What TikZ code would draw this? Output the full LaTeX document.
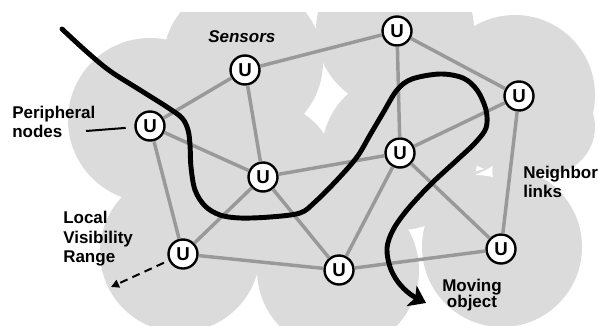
\documentclass[tikz,border=0pt]{standalone}
\usepackage{fontspec}
\setmainfont{Liberation Sans}
\usetikzlibrary{arrows.meta}
\definecolor{bgray}{HTML}{DBDBDB}
\definecolor{lgray}{HTML}{999999}
\begin{document}
\begin{tikzpicture}[x=0.75pt,y=-0.75pt,
  sensor/.style={circle,draw=black,line width=1.8pt,fill=white,minimum size=21.75pt,inner sep=0pt,
    font=\fontsize{14pt}{14pt}\selectfont\bfseries},
  link/.style={draw=lgray,line width=2.6pt},
  lbl/.style={inner sep=0pt,anchor=base west,font=\fontsize{12.75pt}{14pt}\selectfont\bfseries},
  lblc/.style={inner sep=0pt,anchor=base,font=\fontsize{12.75pt}{14pt}\selectfont\bfseries},
]
\useasboundingbox (0,0) rectangle (598,325);
% visibility ranges
\begin{scope}
  \clip (0,12) rectangle (598,325);
  \fill[bgray] (243,62) circle[radius=80];
  \fill[bgray] (395,30) circle[radius=79];
  \fill[bgray] (515,95) circle[radius=80];
  \fill[bgray] (548,127) circle[radius=47];
  \fill[bgray] (150,120) circle[radius=82];
  \fill[bgray] (262,176) circle[radius=75];
  \fill[bgray] (400,152) circle[radius=78];
  \fill[bgray] (180,252) circle[radius=80];
  \fill[bgray] (338,270) circle[radius=81];
  \fill[bgray] (502,247) circle[radius=80];
\end{scope}
\fill[white] (475,175) .. controls (482,172) and (488,169) .. (493,166)
  .. controls (492,169) and (492,173) .. (493,177)
  .. controls (488,176) and (482,175) .. cycle;
% sensors
\node[sensor] (A) at (245,70) {U};
\node[sensor] (B) at (397,31) {U};
\node[sensor] (C) at (519,96) {U};
\node[sensor] (D) at (150,126) {U};
\node[sensor] (E) at (263,177) {U};
\node[sensor] (F) at (400,153) {U};
\node[sensor] (G) at (183,254) {U};
\node[sensor] (H) at (339,270) {U};
\node[sensor] (I) at (501,249) {U};
% neighbor links
\foreach \u/\v in {D/A,A/B,B/C,B/F,A/E,D/E,D/G,E/G,E/F,E/H,F/C,F/H,F/I,C/I,G/H,H/I}
  \draw[link] (\u) -- (\v);
% moving object
\draw[line width=3.7pt,line cap=round,-{Stealth[length=12pt,width=17pt,inset=3pt]}]
  plot[smooth,tension=0.55] coordinates {(62,29) (87,52) (110,71) (140,90) (167,107) (182,118)
  (188,130) (190,145) (191,167) (195,190) (205,206) (220,215) (240,218) (270,217) (300,213)
  (315,202) (337,180) (357,157) (370,135) (383,113) (397,90) (412,79) (440,74) (463,78)
  (477,90) (486,110) (486,128) (475,143) (457,160) (430,185) (407,210) (393,230) (387,248)
  (390,267) (398,282) (410,294) (426,303)};
% labels
\node[lbl,font=\fontsize{12.75pt}{14pt}\selectfont\bfseries\itshape] (sens) at (208,42) {Sensors};
\node[lbl] (per1) at (12,118) {Peripheral};
\node[lbl] (per2) at (12,137) {nodes};
\coordinate (plA) at (86,131);
\draw[line width=1.5pt,shorten >=6.5pt] (plA) -- (D);
\node[lbl] (loc1) at (63,223) {Local};
\node[lbl] (loc2) at (63,243) {Visibility};
\node[lbl] (loc3) at (63,262) {Range};
\coordinate (vr) at (111,287);
\draw[line width=1.5pt,dash pattern=on 6pt off 4pt,shorten <=4pt,-{Triangle[length=6pt,width=6pt]}] (G) -- (vr);
\node[lbl] (nb1) at (523,178) {Neighbor};
\node[lbl] (nb2) at (523,197) {links};
\node[lblc] (mo1) at (472,291) {Moving};
\node[lblc] (mo2) at (472,307) {object};
\end{tikzpicture}
\end{document}
